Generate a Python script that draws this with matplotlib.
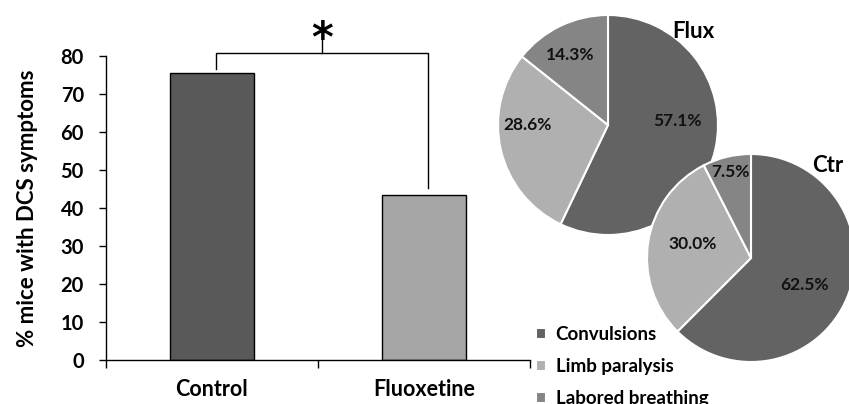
#!/usr/bin/env python3

import numpy as np
import matplotlib
matplotlib.use("Agg")
import matplotlib.pyplot as plt

# bar chart data
groups = ["Control", "Fluoxetine"]
pct_symptoms = [75.6, 43.5]

# pie chart data (clockwise from 12 o'clock)
symptoms = ["Convulsions", "Limb paralysis", "Labored breathing"]
flux_share = [57.1, 28.6, 14.3]
ctr_share = [62.5, 30.0, 7.5]

bar_colors = ["#595959", "#a5a5a5"]
pie_colors = ["#636363", "#b0b0b0", "#858585"]

plt.rcParams["font.family"] = ["Lato", "DejaVu Sans"]
plt.rcParams["font.weight"] = "bold"

W, H = 849, 404
fig = plt.figure(figsize=(W / 100, H / 100), dpi=100)


def px_axes(x0, y0, w, h):
  # x0, y0 = top-left in pixel coords of the reference
  return fig.add_axes([x0 / W, (H - y0 - h) / H, w / W, h / H])


# ---- bar chart ----
ax = px_axes(106, 56, 424, 304)
x = np.arange(len(groups))
ax.bar(x, pct_symptoms, width=0.4, color=bar_colors, edgecolor="black", linewidth=1.0, zorder=2)
ax.set_xlim(-0.5, 1.5)
ax.set_ylim(0, 80)
ax.set_yticks(np.arange(0, 81, 10))
ax.set_xticks([-0.5, 0.5, 1.5])
ax.set_xticklabels([])
ax.set_xticks(x, minor=True)
ax.set_xticklabels(groups, minor=True, fontsize=15.5, fontweight="bold")
ax.tick_params(axis="x", which="minor", length=0, pad=14)
ax.tick_params(axis="x", which="major", length=6, width=1.0, direction="out")
ax.tick_params(axis="y", length=5, width=1.0, labelsize=14.5, pad=11)
for lab in ax.get_yticklabels():
  lab.set_fontweight("bold")
for s in ["top", "right"]:
  ax.spines[s].set_visible(False)
for s in ["left", "bottom"]:
  ax.spines[s].set_linewidth(1.0)
ax.set_ylabel("% mice with DCS symptoms", fontsize=16, fontweight="bold", labelpad=16)

# significance bracket
ax.plot([0.02, 0.02, 1.02, 1.02], [76.5, 80.9, 80.9, 45.2], color="black", lw=1.0, clip_on=False)
ax.plot([0.52, 0.52], [80.9, 84.2], color="black", lw=1.0, clip_on=False)
ax.text(0.52, 78.8, "*", ha="center", va="bottom", fontsize=30, fontweight="bold",
        family="DejaVu Sans", clip_on=False)


# ---- pie charts ----
def draw_pie(cx, cy, r, shares, title, title_xy, label_pos):
  pax = px_axes(cx - r, cy - r, 2 * r, 2 * r)
  wedges, texts, autotexts = pax.pie(
    shares, colors=pie_colors, startangle=90, counterclock=False,
    autopct="%.1f%%", pctdistance=0.62,
    wedgeprops=dict(edgecolor="white", linewidth=1.5),
    textprops=dict(fontsize=12.5, fontweight="bold", color="#111111"))
  # place percentage labels (radius, angle in degrees) like the original
  for t, (rr, ang) in zip(autotexts, label_pos):
    a = np.deg2rad(ang)
    t.set_position((rr * np.cos(a), rr * np.sin(a)))
  pax.set_xlim(-1, 1)
  pax.set_ylim(-1, 1)
  pax.text(title_xy[0], title_xy[1], title, fontsize=16, fontweight="bold", ha="center", va="center")
  return wedges


draw_pie(608, 125, 110, flux_share, "Flux", (0.78, 0.85),
         [(0.63, 3), (0.73, 180), (0.72, 118.5)])
wedges = draw_pie(751, 258, 104, ctr_share, "Ctr", (0.74, 0.89),
                  [(0.58, -26.6), (0.58, 166.6), (0.85, 103.7)])

fig.legend(wedges, symptoms, loc="upper left", bbox_to_anchor=(536 / W, 1 - 326 / H),
           frameon=False, fontsize=13.5, handlelength=0.55, handleheight=0.55,
           handletextpad=0.5, labelspacing=0.8, borderaxespad=0, borderpad=0)

fig.savefig("out.png", dpi=100)
